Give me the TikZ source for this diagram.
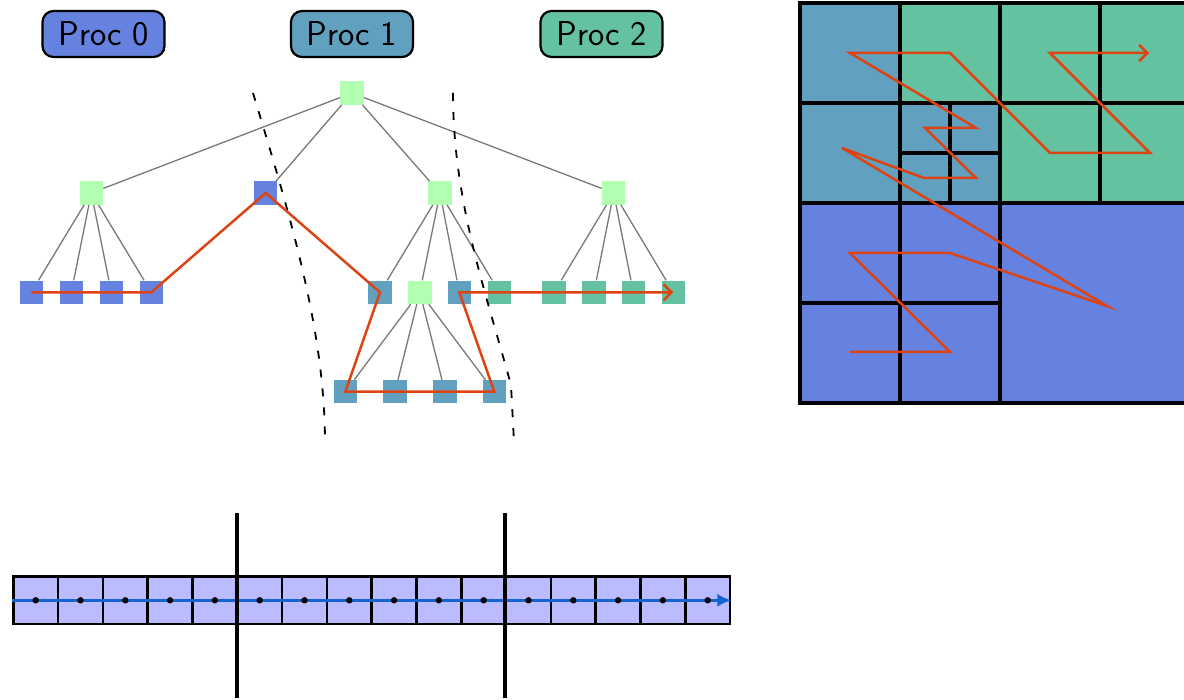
\documentclass[tikz,border=0pt]{standalone}
\usetikzlibrary{arrows.meta}
\definecolor{pblue}{RGB}{102,130,224}
\definecolor{psteel}{RGB}{98,160,192}
\definecolor{pgreen}{RGB}{100,194,160}
\definecolor{lgreen}{RGB}{178,255,178}
\definecolor{lpurple}{RGB}{187,187,255}
\definecolor{sfcred}{RGB}{221,68,20}
\definecolor{flowblue}{RGB}{20,100,210}
\definecolor{edgegray}{RGB}{120,120,120}
\begin{document}
\begin{tikzpicture}[x=1pt,y=-1pt,
  tnode/.style={draw=none, minimum size=23.5pt, inner sep=0pt},
  inner/.style={tnode, fill=lgreen},
  leafa/.style={tnode, fill=pblue},
  leafb/.style={tnode, fill=psteel},
  leafc/.style={tnode, fill=pgreen},
  edge/.style={draw=edgegray, line width=1.3pt},
  sfc/.style={draw=sfcred, line width=2.5pt, line join=miter},
  part/.style={dash pattern=on 8pt off 11pt, line width=1.8pt},
  proc/.style={draw, line width=2.2pt, rounded corners=11pt, minimum width=122pt,
    minimum height=46pt, inner sep=0pt, font=\sffamily\fontsize{34.5}{38}\selectfont},
  cellbox/.style={draw, fill=lpurple, line width=2.6pt, minimum width=44.8pt,
    minimum height=47.3pt, inner sep=0pt},
  flow/.style={draw=flowblue, line width=2.6pt, -{Latex[length=14pt,width=13pt]}},
  divider/.style={line width=4.2pt},
  grid/.style={line width=3.3pt}
]
\useasboundingbox (0,0) rectangle (1184,700);
\clip (0,0) rectangle (1184,700);

% processor labels
\node[proc, fill=pblue]  (p0) at (103.5,34)   {Proc 0};
\node[proc, fill=psteel] (p1) at (352,34)   {Proc 1};
\node[proc, fill=pgreen] (p2) at (601.5,34) {Proc 2};

% tree nodes
\node[inner] (r) at (352,93) {};
\node[inner] (a) at (91.3,193) {};
\node[leafa] (b) at (265.7,193) {};
\node[inner] (c) at (440,193) {};
\node[inner] (d) at (613.7,193) {};
\node[leafa] (a1) at (31.3,292.3) {};
\node[leafa] (a2) at (71.3,292.3) {};
\node[leafa] (a3) at (111.3,292.3) {};
\node[leafa] (a4) at (151.3,292.3) {};
\node[leafb] (c1) at (380,292.3) {};
\node[inner] (c2) at (419.8,292.3) {};
\node[leafb] (c3) at (459.3,292.3) {};
\node[leafc] (c4) at (499.3,292.3) {};
\node[leafc] (d1) at (554,292.3) {};
\node[leafc] (d2) at (594,292.3) {};
\node[leafc] (d3) at (633.3,292.3) {};
\node[leafc] (d4) at (673.3,292.3) {};
\node[leafb] (e1) at (345.3,391.7) {};
\node[leafb] (e2) at (395,391.7) {};
\node[leafb] (e3) at (445,391.7) {};
\node[leafb] (e4) at (494.3,391.7) {};

% tree edges
\foreach \ch in {a,b,c,d} \draw[edge] (r) -- (\ch);
\foreach \ch in {a1,a2,a3,a4} \draw[edge] (a) -- (\ch);
\foreach \ch in {c1,c2,c3,c4} \draw[edge] (c) -- (\ch);
\foreach \ch in {d1,d2,d3,d4} \draw[edge] (d) -- (\ch);
\foreach \ch in {e1,e2,e3,e4} \draw[edge] (c2) -- (\ch);

% partition curves
\coordinate (l0) at (253,93);
\coordinate (l1) at (325,443);
\coordinate (q0) at (453,93);
\coordinate (q1) at (511,385);
\coordinate (q2) at (514,442);
\draw[part] (l0) .. controls (290,215) and (325,330) .. (l1);
\draw[part] (q0) .. controls (453,200) and (485,290) .. (q1) -- (q2);

% space-filling curve through tree leaves
\draw[sfc, -{Straight Barb[length=8pt,width=16pt]}]
  (a1.center) -- (a4.center) -- (b.center) -- (c1.center) -- (e1.center)
  -- (e4.center) -- (c3.center) -- (d4.center);

% quadtree
\fill[pgreen] (900,3) rectangle (1200,203);
\fill[psteel] (800,3) rectangle (900,103);
\fill[psteel] (800,103) rectangle (1000,203);
\fill[pblue] (800,203) rectangle (1200,403);
\draw[grid] (800,3) rectangle (1200,403);
\draw[grid] (900,3) -- (900,403);
\draw[grid] (1000,3) -- (1000,403);
\draw[grid] (1100,3) -- (1100,203);
\draw[grid] (950,103) -- (950,203);
\draw[grid] (800,103) -- (1200,103);
\draw[grid] (800,203) -- (1200,203);
\draw[grid] (800,303) -- (1000,303);
\draw[grid] (900,153) -- (1000,153);

\draw[sfc, -{Straight Barb[length=8pt,width=16pt]}]
  (850,352) -- (950,352) -- (850,253) -- (950,253) -- (1107,306) -- (842,148)
  -- (924,178) -- (976,178) -- (925,128) -- (976,128) -- (850,53) -- (950,53)
  -- (1050,153) -- (1150,153) -- (1050,53) -- (1149,53);

% 1D strip
\foreach \i in {0,...,15} {
  \node[cellbox] (s\i) at ({35.7+44.8*\i},600.3) {};
}
\draw[flow] (s0.west) -- (s15.east);
\foreach \i in {0,...,15} \fill (s\i.center) circle (3.2pt);
\coordinate (v1a) at (237.3,513);
\coordinate (v1b) at (237.3,698);
\coordinate (v2a) at (505.1,513);
\coordinate (v2b) at (505.1,698);
\draw[divider] (v1a) -- (v1b);
\draw[divider] (v2a) -- (v2b);
\end{tikzpicture}
\end{document}
